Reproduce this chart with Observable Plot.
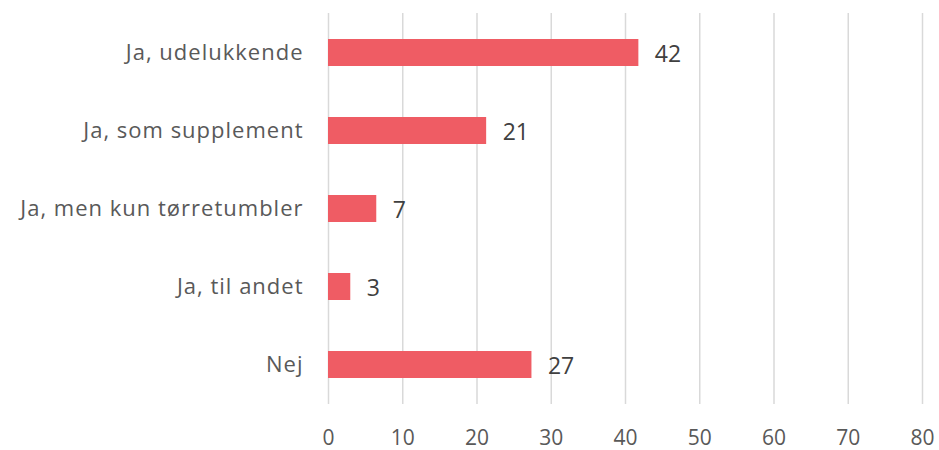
<!DOCTYPE html>
<html>
<head>
<meta charset="utf-8">
<script src="https://cdn.jsdelivr.net/npm/d3@7"></script>
<script src="https://cdn.jsdelivr.net/npm/@observablehq/plot@0.6"></script>
<style>
  html, body { margin: 0; padding: 0; background: #ffffff; }
  #chart svg { display: block; }
  #chart g[aria-label="y-axis tick label"] text { letter-spacing: 1.0px; }
</style>
</head>
<body>
<div id="chart"></div>
<script>
const categories = ["Ja, udelukkende", "Ja, som supplement", "Ja, men kun tørretumbler", "Ja, til andet", "Nej"];
const values = [41.8, 21.3, 6.5, 3.0, 27.4];
const valueLabels = ["42", "21", "7", "3", "27"];
const xTicks = [0, 10, 20, 30, 40, 50, 60, 70, 80];

const data = categories.map((c, i) => ({category: c, value: values[i], label: valueLabels[i]}));

const chart = Plot.plot({
  width: 939,
  height: 450,
  marginLeft: 328,
  marginRight: 17,
  marginTop: 13,
  marginBottom: 46,
  style: {fontFamily: "'Open Sans', sans-serif", fontSize: "21px", color: "#595959", background: "#ffffff"},
  x: {domain: [0, 80], ticks: xTicks, label: null},
  y: {domain: categories, paddingInner: 0.655, paddingOuter: 0.3275, label: null},
  marks: [
    Plot.ruleX(xTicks, {stroke: "#d9d9d9", strokeWidth: 1.5}),
    Plot.barX(data, {x: "value", y: "category", fill: "#EF5C64"}),
    Plot.text(data, {x: "value", y: "category", text: "label", textAnchor: "start", dx: 16, dy: 2, fill: "#404040", fontSize: 23}),
    Plot.axisX({ticks: xTicks, tickSize: 0, tickPadding: 26, fill: "#595959", fontSize: 21}),
    Plot.axisY({tickSize: 0, tickPadding: 25, fill: "#595959", fontSize: 22})
  ]
});
document.getElementById("chart").appendChild(chart);
</script>
</body>
</html>
